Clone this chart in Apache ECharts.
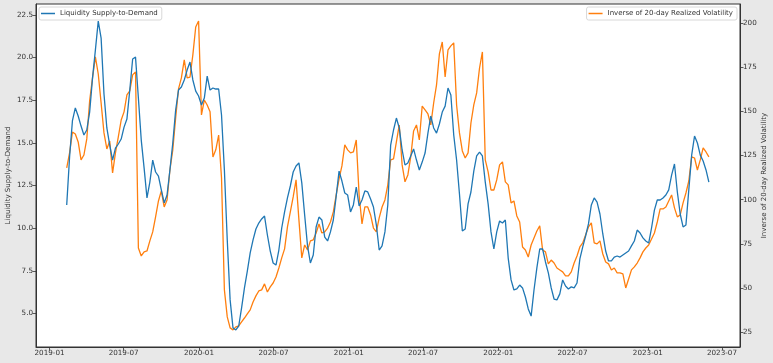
<!DOCTYPE html>
<html><head><meta charset="utf-8">
<script src="https://cdn.jsdelivr.net/npm/echarts@6/dist/echarts.min.js"></script>
<style>html,body{margin:0;padding:0;background:#e8e8e8}#c{width:773px;height:363px}</style>
</head><body><div id="c"></div>
<script>
// Weekly observations starting at this date
const startDate = [2019, 1, 12]; // year, monthIndex, day (2019-02-12)
const stepDays = 7;

const liquidity = [
11.36,14.17,16.30,17.04,16.57,15.98,15.46,15.75,16.80,18.79,
20.43,22.13,21.13,17.86,15.87,14.87,13.99,14.69,14.93,15.22,
15.92,16.39,18.09,19.91,20.02,17.62,15.16,13.52,11.77,12.70,
13.99,13.29,13.05,12.24,11.48,11.94,13.41,14.99,16.92,18.09,
18.27,18.68,19.26,19.73,18.68,18.03,17.74,17.21,17.62,18.91,
18.09,18.21,18.15,18.15,16.63,13.41,9.31,5.80,4.16,4.04,
4.27,5.33,6.50,7.49,8.55,9.31,9.95,10.30,10.54,10.71,
9.60,8.66,7.96,7.84,8.72,10.01,10.95,11.77,12.47,13.29,
13.64,13.82,12.65,10.77,8.96,7.96,8.43,10.07,10.65,10.48,
9.48,9.25,9.78,10.48,11.88,13.34,12.76,12.06,11.94,10.95,
11.36,12.41,11.30,11.65,12.18,12.12,11.71,11.24,10.19,8.72,
8.96,9.78,11.36,14.87,15.75,16.45,15.87,14.58,13.70,13.82,
14.23,14.64,13.99,13.41,13.87,14.40,15.57,16.57,15.87,15.57,
16.10,16.80,17.15,18.21,17.80,15.46,13.99,12.00,9.83,9.95,
11.42,12.12,13.34,14.23,14.46,14.23,12.70,11.42,9.78,8.78,
9.78,10.42,10.30,10.48,8.25,6.97,6.38,6.44,6.67,6.50,
5.97,5.27,4.85,6.38,7.67,8.78,8.78,8.02,7.38,6.50,
5.85,5.80,6.15,6.97,6.61,6.44,6.56,6.50,6.79,8.20,
8.90,9.54,10.25,11.36,11.77,11.53,10.83,9.66,8.66,8.08,
8.08,8.31,8.37,8.31,8.43,8.55,8.66,8.96,9.25,9.89,
9.72,9.43,9.25,9.13,10.01,11.06,11.65,11.65,11.77,11.94,
12.24,13.11,13.76,12.12,10.83,10.07,10.19,12.24,14.28,15.40,
14.99,14.28,13.93,13.41,12.70
];

const inverseVol = [
118.0,126.5,138.3,137.2,132.7,122.5,125.3,134.4,155.9,168.9,
180.8,171.1,154.7,137.8,128.7,133.2,115.2,126.5,135.5,145.1,
149.7,159.3,161.5,170.6,172.3,72.7,68.2,70.5,71.0,76.7,
81.8,90.3,99.3,105.0,95.9,99.9,116.8,128.2,146.3,162.7,
168.9,179.1,168.9,169.4,181.9,197.7,201.1,148.0,156.4,153.6,
149.7,124.2,128.2,136.6,112.3,49.0,33.7,27.5,26.4,28.1,
28.6,30.9,33.1,35.4,37.7,42.2,45.6,48.4,49.0,52.4,
47.8,50.7,52.9,56.3,61.4,67.1,72.2,84.6,93.1,101.6,
111.2,88.6,67.1,74.4,71.6,76.7,77.3,81.2,86.3,81.2,
81.8,84.0,87.4,93.1,102.7,111.8,119.1,131.0,128.2,126.5,
127.0,133.8,102.7,86.3,95.9,95.9,91.4,84.0,81.8,89.7,
95.9,99.9,108.4,122.5,123.1,132.7,142.3,119.7,110.1,114.0,
124.2,138.9,142.3,133.8,153.0,150.8,148.5,142.3,154.7,164.9,
182.5,189.2,169.4,184.7,187.0,188.7,153.6,137.8,127.6,123.6,
126.5,143.4,153.6,160.4,174.5,183.6,122.5,115.7,105.5,105.5,
111.2,119.7,121.4,110.1,108.4,98.2,99.3,90.8,87.4,73.3,
71.6,67.6,74.4,78.4,82.3,85.2,71.6,70.5,63.7,65.9,
64.2,61.4,60.3,59.2,56.9,56.9,59.2,64.2,68.2,73.3,
75.6,80.1,84.6,86.9,75.6,75.0,76.7,69.3,64.8,63.7,
60.3,61.4,58.6,58.6,58.0,50.1,55.2,60.3,62.0,64.2,
67.1,70.5,72.7,74.4,77.8,81.2,87.4,94.8,94.8,95.9,
99.3,102.7,95.4,90.3,91.4,98.2,103.8,110.6,124.2,123.6,
116.8,122.5,129.3,127.0,124.2
];

const xTickLabels = ['2019-01','2019-07','2020-01','2020-07','2021-01','2021-07','2022-01','2022-07','2023-01','2023-07'];
const leftTicks = [5.0, 7.5, 10.0, 12.5, 15.0, 17.5, 20.0, 22.5];
const rightTicks = [25, 50, 75, 100, 125, 150, 175, 200];

const DAY = 86400000;
const t0 = Date.UTC(startDate[0], startDate[1], startDate[2]);
const dates = liquidity.map((_, i) => t0 + i * stepDays * DAY);
const xTickValues = xTickLabels.map(s => { const p = s.split('-'); return Date.UTC(+p[0], +p[1] - 1, 1); });

const fmtDate = v => { const d = new Date(v); return d.getUTCFullYear() + '-' + String(d.getUTCMonth() + 1).padStart(2, '0'); };

const FONT = 'DejaVu Sans';
const TXT = '#333';
const axisCommon = {
  axisLine: { show: true, onZero: false, lineStyle: { color: '#333', width: 1 } },
  axisTick: { show: true, inside: false, length: 3.5, lineStyle: { color: '#333', width: 0.8 } },
  splitLine: { show: false },
  axisLabel: { color: TXT, fontFamily: FONT, fontSize: 7.2, margin: 3 }
};

const chart = echarts.init(document.getElementById('c'), null, { renderer: 'canvas' });
chart.setOption({
  animation: false,
  backgroundColor: '#e8e8e8',
  grid: { left: 36, right: 33, top: 4, bottom: 16, containLabel: false, outerBoundsMode: 'none',
          show: true, backgroundColor: '#fff', borderColor: '#333', borderWidth: 1 },
  legend: [
    { data: ['Liquidity Supply-to-Demand'], left: 39, top: 7, orient: 'horizontal',
      icon: 'rect', itemWidth: 14, itemHeight: 1.5, padding: [3, 4, 3, 2],
      backgroundColor: '#fff', borderColor: '#d8d8d8', borderWidth: 1, borderRadius: 2,
      textStyle: { fontFamily: FONT, fontSize: 7, color: TXT } },
    { data: ['Inverse of 20-day Realized Volatility'], right: 36, top: 7, orient: 'horizontal',
      icon: 'rect', itemWidth: 14, itemHeight: 1.5, padding: [3, 4, 3, 2],
      backgroundColor: '#fff', borderColor: '#d8d8d8', borderWidth: 1, borderRadius: 2,
      textStyle: { fontFamily: FONT, fontSize: 7, color: TXT } }
  ],
  xAxis: {
    type: 'value',
    min: Date.UTC(2018, 10, 29),
    max: Date.UTC(2023, 7, 14),
    ...axisCommon,
    axisTick: { ...axisCommon.axisTick, customValues: xTickValues },
    axisLabel: { ...axisCommon.axisLabel, customValues: xTickValues, formatter: v => fmtDate(v) }
  },
  yAxis: [
    { type: 'value', position: 'left', min: 3.04, max: 23.13,
      name: 'Liquidity Supply-to-Demand', nameLocation: 'middle', nameGap: 24, nameRotate: 90, nameMoveOverlap: false,
      nameTextStyle: { fontFamily: FONT, fontSize: 7, color: TXT },
      ...axisCommon,
      axisTick: { ...axisCommon.axisTick, customValues: leftTicks },
      axisLabel: { ...axisCommon.axisLabel, customValues: leftTicks, formatter: v => v.toFixed(1) } },
    { type: 'value', position: 'right', min: 16.7, max: 210.7,
      name: 'Inverse of 20-day Realized Volatility', nameLocation: 'middle', nameGap: 21, nameRotate: 90, nameMoveOverlap: false,
      nameTextStyle: { fontFamily: FONT, fontSize: 7, color: TXT },
      ...axisCommon,
      axisTick: { ...axisCommon.axisTick, customValues: rightTicks },
      axisLabel: { ...axisCommon.axisLabel, customValues: rightTicks, formatter: v => String(v) } }
  ],
  series: [
    { name: 'Liquidity Supply-to-Demand', type: 'line', yAxisIndex: 0, showSymbol: false,
      data: dates.map((d, i) => [d, liquidity[i]]),
      itemStyle: { color: '#1f77b4' }, lineStyle: { color: '#1f77b4', width: 1.3 }, z: 3 },
    { name: 'Inverse of 20-day Realized Volatility', type: 'line', yAxisIndex: 1, showSymbol: false,
      data: dates.map((d, i) => [d, inverseVol[i]]),
      itemStyle: { color: '#ff7f0e' }, lineStyle: { color: '#ff7f0e', width: 1.3 }, z: 2 }
  ]
});
</script></body></html>
